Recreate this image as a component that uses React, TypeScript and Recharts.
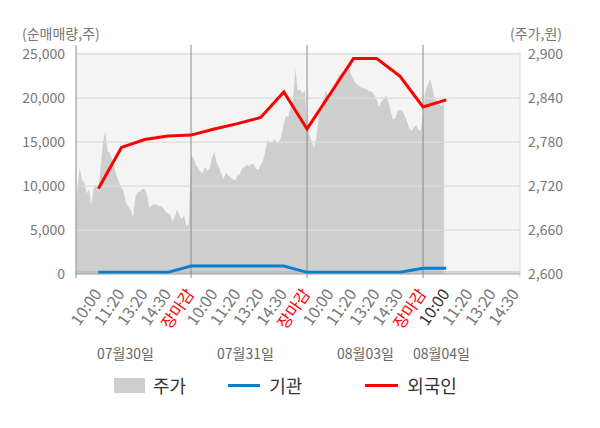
import React from 'react';
import { Area, CartesianGrid, ComposedChart, Line, ReferenceLine, XAxis, YAxis } from 'recharts';

const FONT = "'Noto Sans CJK KR', 'Noto Sans', sans-serif";

// x axis: one slot per tick label, 5 slots per trading day
const timeLabels = [
  '10:00', '11:20', '13:20', '14:30', '장마감',
  '10:00', '11:20', '13:20', '14:30', '장마감',
  '10:00', '11:20', '13:20', '14:30', '장마감',
  '10:00', '11:20', '13:20', '14:30',
];
const dayLabels = ['07월30일', '07월31일', '08월03일', '08월04일'];

// 주가 (won), sampled every 1/10 slot through each day
const priceDay1 = [
  2669, 2715, 2745, 2728, 2725, 2710, 2716, 2695, 2716, 2722,
  2712, 2745, 2777, 2795, 2768, 2765, 2757, 2745, 2733, 2725,
  2718, 2712, 2697, 2692, 2687, 2678, 2705, 2712, 2712, 2716,
  2716, 2708, 2690, 2694, 2695, 2695, 2693, 2693, 2690, 2685,
  2683, 2681, 2672, 2679, 2688, 2680, 2675, 2680, 2666, 2668,
];
const priceDay2 = [
  2761, 2759, 2749, 2745, 2740, 2737, 2746, 2741, 2744, 2758,
  2767, 2752, 2746, 2737, 2730, 2739, 2734, 2733, 2729, 2728,
  2734, 2736, 2744, 2746, 2749, 2747, 2750, 2750, 2744, 2742,
  2749, 2754, 2768, 2783, 2780, 2780, 2784, 2778, 2781, 2789,
  2805, 2816, 2815, 2829, 2840, 2880, 2850, 2852, 2846, 2851,
];
const priceDay3 = [
  2800, 2790, 2780, 2772, 2786, 2815, 2827, 2838, 2850, 2844,
  2845, 2850, 2860, 2866, 2872, 2875, 2877, 2879, 2883, 2872,
  2865, 2860, 2858, 2855, 2854, 2853, 2851, 2849, 2849, 2844,
  2838, 2828, 2835, 2838, 2844, 2835, 2823, 2811, 2812, 2823,
  2824, 2823, 2817, 2809, 2800, 2795, 2800, 2803, 2797, 2795,
];
const priceDay4 = [2820, 2849, 2858, 2866, 2855, 2840, 2836, 2832, 2829, 2834];

// 순매매량 (주) at each tick slot
const foreignNet = [9700, 14400, 15300, 15700, 15800, 16500, 17100, 17800, 20700, 16500, 20500, 24500, 24500, 22500, 19000, 19800];
const institutionNet = [190, 190, 190, 190, 900, 900, 900, 900, 900, 190, 190, 190, 190, 190, 650, 650];

const volumeTicks = [0, 5000, 10000, 15000, 20000, 25000];
const priceTicks = [2600, 2660, 2720, 2780, 2840, 2900];
const dayEnds = [4, 9, 14];

const priceData = [priceDay1, priceDay2, priceDay3, priceDay4].flatMap((vals, d) =>
  vals.map((v, k) => ({ slot: 5 * d - 1 + k / 10, price: v })),
);
const netData = foreignNet.map((v, i) => ({ slot: i, foreign: v, inst: institutionNet[i] }));

const fmt = (v: number) => v.toLocaleString('en-US');

function TimeTick(props: any) {
  const { x, y, payload } = props;
  const label = timeLabels[payload.value];
  const color = label === '장마감' ? '#ff0000' : payload.value === 15 ? '#333333' : '#777777';
  const tx = x + 4;
  const ty = y + 20;
  return (
    <text
      x={tx}
      y={ty}
      transform={`rotate(-55, ${tx}, ${ty})`}
      textAnchor="end"
      fill={color}
      fontSize={16}
      fontFamily={FONT}
    >
      {label}
    </text>
  );
}

const dayLabelLeft = [97, 217, 337, 413];

export default function App() {
  return (
    <div style={{ position: 'absolute', left: 0, top: 0, width: 600, height: 428, background: '#fff', fontFamily: FONT }}>
      <div style={{ position: 'absolute', left: 22, top: 24, fontSize: 14, lineHeight: '18px', color: '#777' }}>(순매매량,주)</div>
      <div style={{ position: 'absolute', right: 38, top: 24, fontSize: 14, lineHeight: '18px', color: '#777' }}>(주가,원)</div>
      <ComposedChart width={600} height={428} margin={{ top: 52, right: 10, bottom: 124, left: 16 }}>
        <CartesianGrid yAxisId="left" vertical={false} horizontal={false} fill="#f4f4f4" />
        <XAxis
          type="number"
          dataKey="slot"
          domain={[-0.96, 18.18]}
          ticks={timeLabels.map((_, i) => i)}
          allowDataOverflow
          interval={0}
          height={30}
          tickSize={0}
          tickMargin={0}
          tickLine={false}
          axisLine={{ stroke: '#999999' }}
          tick={<TimeTick />}
        />
        <YAxis
          yAxisId="left"
          width={60}
          domain={[0, 25250]}
          ticks={volumeTicks}
          tickFormatter={fmt}
          axisLine={false}
          tickLine={false}
          tickSize={0}
          tickMargin={11}
          tick={{ fill: '#777', fontSize: 14, fontFamily: FONT }}
        />
        <YAxis
          yAxisId="right"
          orientation="right"
          width={70}
          domain={[2600, 2903]}
          ticks={priceTicks}
          tickFormatter={fmt}
          axisLine={false}
          tickLine={false}
          tickSize={0}
          tickMargin={8}
          tick={{ fill: '#777', fontSize: 14, fontFamily: FONT, textAnchor: 'start' }}
        />
        <Area
          yAxisId="right"
          data={priceData}
          dataKey="price"
          type="linear"
          fill="#cecece"
          fillOpacity={1}
          stroke="none"
          baseValue={2600}
          isAnimationActive={false}
        />
        {volumeTicks.slice(1).map((t) => (
          <ReferenceLine key={t} yAxisId="left" y={t} stroke="#dcdcdc" strokeWidth={1.2} />
        ))}
        <ReferenceLine yAxisId="left" y={230} stroke="#b4b4b4" />
        <ReferenceLine
          yAxisId="left"
          segment={[{ x: -0.96, y: -455 }, { x: -0.96, y: 26050 }]}
          stroke="#8a8a8a"
          ifOverflow="visible"
        />
        {dayEnds.map((s) => (
          <ReferenceLine
            key={s}
            yAxisId="left"
            segment={[{ x: s, y: -455 }, { x: s, y: 26050 }]}
            stroke="#8a8a8a"
            ifOverflow="visible"
          />
        ))}
        <ReferenceLine
          yAxisId="left"
          segment={[{ x: 18.18, y: -455 }, { x: 18.18, y: 25250 }]}
          stroke="#dddddd"
          ifOverflow="visible"
        />
        <Line
          yAxisId="left"
          data={netData}
          dataKey="inst"
          type="linear"
          stroke="#0a7fcf"
          strokeWidth={3}
          dot={false}
          isAnimationActive={false}
        />
        <Line
          yAxisId="left"
          data={netData}
          dataKey="foreign"
          type="linear"
          stroke="#ff0000"
          strokeWidth={3}
          dot={false}
          isAnimationActive={false}
        />
      </ComposedChart>
      {dayLabels.map((d, i) => (
        <div key={d} style={{ position: 'absolute', left: dayLabelLeft[i], top: 343, fontSize: 14, lineHeight: '20px', color: '#666' }}>
          {d}
        </div>
      ))}
      <div style={{ position: 'absolute', left: 114, top: 373, display: 'flex', alignItems: 'center', height: 24, fontSize: 18, color: '#333' }}>
        <span style={{ display: 'inline-block', width: 31, height: 15, background: '#cecece', marginRight: 8 }} />
        <span>주가</span>
        <span style={{ display: 'inline-block', width: 32, height: 3, background: '#0a7fcf', marginLeft: 42, marginRight: 9 }} />
        <span>기관</span>
        <span style={{ display: 'inline-block', width: 33, height: 3, background: '#ff0000', marginLeft: 63, marginRight: 9 }} />
        <span>외국인</span>
      </div>
    </div>
  );
}
